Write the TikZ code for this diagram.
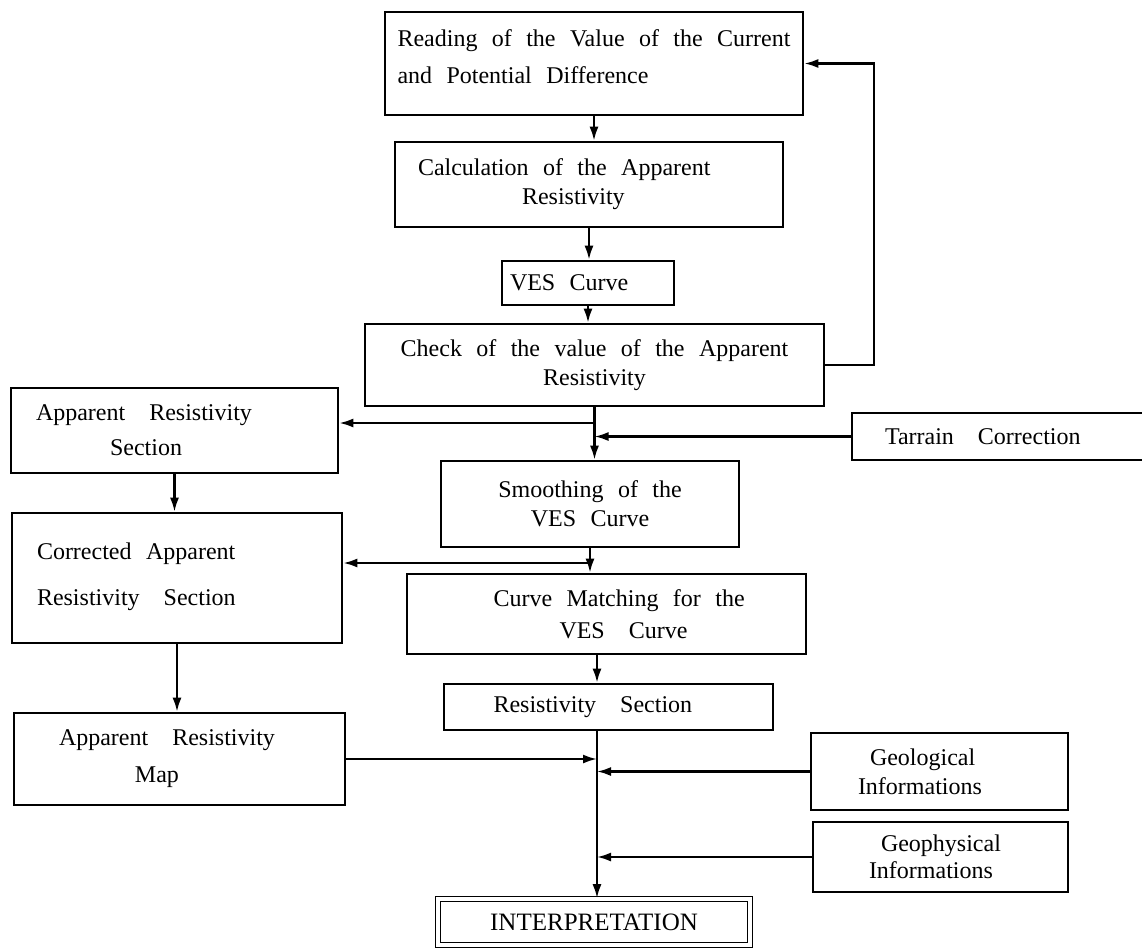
\documentclass[tikz,border=0pt]{standalone}
\usepackage{fontspec}
\setmainfont{Liberation Serif}
\usepackage{tikz}
\usetikzlibrary{arrows.meta}

\tikzset{
  box/.style={draw, rectangle, line width=1.3pt, inner sep=4pt,
    font={\fontsize{12pt}{14.5pt}\selectfont\spaceskip=.6em plus .1em\relax},
    execute at begin node={\spaceskip=.6em plus .1em\relax}},
  arr/.style={line width=1.1pt, -{Latex[length=7pt,width=4.5pt]}},
}

\begin{document}
\begin{tikzpicture}[x=0.5pt,y=-0.5pt]
\useasboundingbox (0,0) rectangle (1142,949);
\clip (0,0) rectangle (1142,949);

% Main column
\node[box, align=left, minimum width=209pt, minimum height=51.5pt] (read) at (594,63.5)
  {Reading of the Value of the Current\\[4pt]and Potential Difference\\[-8pt]\mbox{}};
\node[box, text width=171pt, inner xsep=11.5pt, align=left, minimum height=42.5pt] (calc) at (589,184.5)
  {Calculation of the Apparent\\\hspace*{52pt}Resistivity};
\node[box, text width=78pt, align=left, minimum height=22pt] (ves) at (588,283) {VES Curve};
\node[box, align=center, minimum width=229.5pt, minimum height=41pt] (check) at (594.5,365)
  {Check of the value of the Apparent\\Resistivity};
\node[box, align=center, minimum width=149pt, minimum height=43pt] (smooth) at (590,504)
  {Smoothing of the\\VES Curve};
\node[box, text width=175pt, inner xsep=12.25pt, align=left, minimum height=40pt] (match) at (606.5,614)
  {\hspace*{31pt}Curve Matching for the\\[1.5pt]\hspace*{64pt}VES\quad Curve};
\node[box, text width=139pt, inner xsep=12.75pt, align=left, minimum height=23pt] (ressec) at (608.5,707)
  {\hspace*{12pt}Resistivity\quad Section};
\node[box, double, double distance=1.6pt, line width=.8pt, minimum width=156pt, minimum height=23pt,
  font={\fontsize{12.5pt}{14.5pt}\selectfont}] (interp) at (594,922)
  {INTERPRETATION};

% Left column
\node[box, text width=138.5pt, inner xsep=12.5pt, align=left, minimum height=42.5pt] (arsec) at (174.5,430.5)
  {Apparent\quad Resistivity\\[3pt]\hspace*{37pt}Section};
\node[box, text width=140pt, inner xsep=12.5pt, align=left, minimum height=65pt] (corr) at (177,578)
  {Corrected Apparent\\[8.5pt]Resistivity\quad Section\\[-11pt]\mbox{}};
\node[box, text width=120.5pt, inner xsep=22.5pt, align=left, minimum height=46pt] (map) at (179.5,759)
  {Apparent\quad Resistivity\\[4pt]\hspace*{38pt}Map};

% Right column
\node[box, text width=130pt, inner xsep=16.5pt, align=left, minimum height=23.5pt] (tarrain) at (1015,436.5)
  {Tarrain\quad Correction};
\node[box, text width=81.5pt, inner xsep=23.5pt, align=left, minimum height=38.5pt] (geol) at (939.5,771.5)
  {\hspace*{6pt}Geological\\Informations};
\node[box, text width=71.5pt, inner xsep=28pt, align=left, minimum height=35pt] (geoph) at (940.5,857)
  {\hspace*{6pt}Geophysical\\[-1pt]Informations};

% Junctions
\coordinate (j1) at (check.south |- 0,423);
\coordinate (j2) at (smooth.south |- 0,563);
\coordinate (low) at (597,757);
\coordinate (fbk) at (874,200);

% Arrows
\draw[arr] (read.south) -- (read.south |- calc.north);
\draw[arr] (calc.south) -- (calc.south |- ves.north);
\draw[arr] (ves.south) -- (ves.south |- check.north);
\draw[arr] (check.east) -| (fbk) |- (read.east);
\draw[arr] (check.south) -- (check.south |- smooth.north);
\draw[arr] (j1) -- (j1 -| arsec.east);
\draw[arr] (tarrain.west) -- (tarrain.west -| check.south);
\draw[arr] (arsec.south) -- (arsec.south |- corr.north);
\draw[arr] (smooth.south) -- (smooth.south |- match.north);
\draw[arr] (j2) -- (j2 -| corr.east);
\draw[arr] (corr.south) -- (corr.south |- map.north);
\draw[arr] (low |- match.south) -- (low |- ressec.north);
\draw[arr] (low |- ressec.south) -- (low |- interp.north);
\draw[arr] (map.east) -- (map.east -| low);
\draw[arr] (geol.west) -- (geol.west -| low);
\draw[arr] (geoph.west) -- (geoph.west -| low);
\end{tikzpicture}
\end{document}
